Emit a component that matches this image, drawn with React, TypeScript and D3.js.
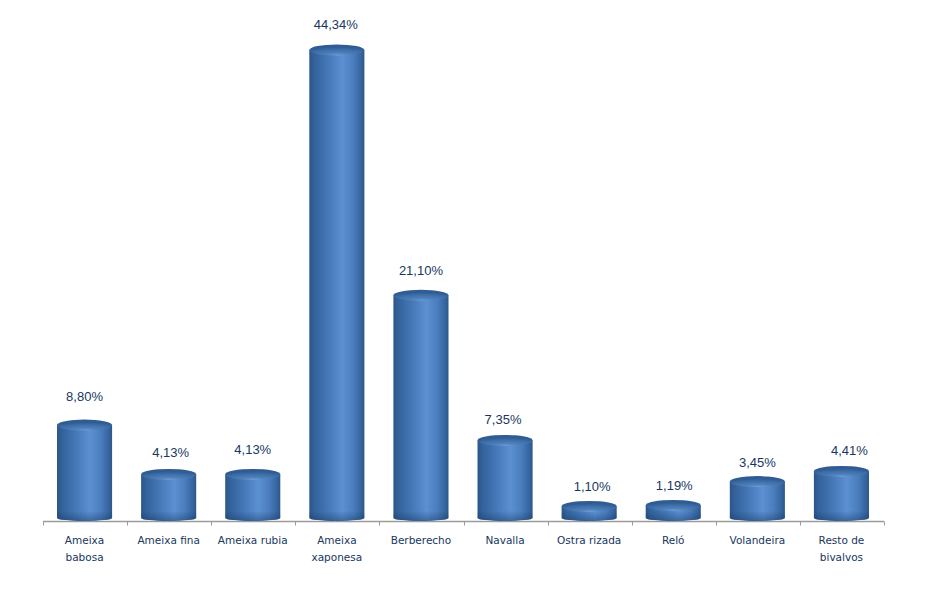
import React from "react";
import * as d3 from "d3";

const categories = [["Ameixa", "babosa"], ["Ameixa fina"], ["Ameixa rubia"], ["Ameixa", "xaponesa"], ["Berberecho"], ["Navalla"], ["Ostra rizada"], ["Reló"], ["Volandeira"], ["Resto de", "bivalvos"]];
const values = [8.8, 4.13, 4.13, 44.34, 21.1, 7.35, 1.1, 1.19, 3.45, 4.41];
const valueLabels = ["8,80%", "4,13%", "4,13%", "44,34%", "21,10%", "7,35%", "1,10%", "1,19%", "3,45%", "4,41%"];
const labelNudgeX = [0, 2, 0, -1, 0, -2, 3, 1, 0, 8];
const labelGaps = [24, 17, 20, 21, 20, 16, 15, 15, 15, 16];

const W = 928, H = 600;
const axisY = 521.5;
const band = 841 / values.length;
const x = d3.scaleBand<number>().domain(d3.range(values.length)).range([42.5, 883.5]).paddingInner(0.345).paddingOuter(0.1725);
const y = d3.scaleLinear().domain([0, 44.34]).range([518, 50]);
const ticks = d3.range(values.length + 1).map(i => 43 + band * i);
const RY = 5.5;

export default function App() {
  const bw = x.bandwidth();
  return (
    <svg width={W} height={H} style={{ position: "absolute", left: 0, top: 0, background: "#fff" }}>
      <defs>
        <linearGradient id="body" x1="0" x2="1" y1="0" y2="0">
          <stop offset="0" stopColor="#2b5689" />
          <stop offset="0.1" stopColor="#34639c" />
          <stop offset="0.35" stopColor="#4679b8" />
          <stop offset="0.6" stopColor="#5b90d2" />
          <stop offset="0.8" stopColor="#4a7dbd" />
          <stop offset="0.95" stopColor="#34639c" />
          <stop offset="1" stopColor="#2b5689" />
        </linearGradient>
        <radialGradient id="cap" cx="0.52" cy="1" r="0.75">
          <stop offset="0" stopColor="#6f9fd8" />
          <stop offset="0.3" stopColor="#4f81bd" />
          <stop offset="0.75" stopColor="#3c6ca6" />
          <stop offset="1" stopColor="#2f5c92" />
        </radialGradient>
        <linearGradient id="shadeBottom" x1="0" x2="0" y1="0" y2="1">
          <stop offset="0" stopColor="#16365f" stopOpacity="0" />
          <stop offset="1" stopColor="#16365f" stopOpacity="0.45" />
        </linearGradient>
      </defs>
      <line x1={43} x2={884} y1={axisY} y2={axisY} stroke="#9a9a9a" strokeWidth={1.3} />
      {ticks.map((t, i) => (
        <line key={i} x1={Math.round(t) + 0.5} x2={Math.round(t) + 0.5} y1={axisY} y2={axisY + 4} stroke="#9a9a9a" />
      ))}
      {values.map((v, i) => {
        const x0 = x(i)!;
        const top = y(v);
        const bottom = y(0);
        const rx = bw / 2;
        const cx = x0 + rx;
        const d = `M${x0},${top}L${x0},${bottom}A${rx},${RY - 2.5} 0 0 0 ${x0 + bw},${bottom}L${x0 + bw},${top}Z`;
        const shadeTop = Math.max(top + RY, bottom - 7);
        const shade = `M${x0},${shadeTop}L${x0},${bottom}A${rx},${RY - 2.5} 0 0 0 ${x0 + bw},${bottom}L${x0 + bw},${shadeTop}Z`;
        return (
          <g key={i}>
            <path d={d} fill="url(#body)" />
            <path d={shade} fill="url(#shadeBottom)" />
            <ellipse cx={cx} cy={top} rx={rx} ry={RY} fill="url(#cap)" />
            <text x={cx + labelNudgeX[i]} y={top - labelGaps[i]} textAnchor="middle" fontFamily="Liberation Sans" fontSize={13} fill="#17375e">{valueLabels[i]}</text>
            <text textAnchor="middle" fontFamily="DejaVu Sans" fontSize={10.5} fill="#17375e">
              {categories[i].map((line, k) => (
                <tspan key={k} x={cx} y={544 + k * 17}>{line}</tspan>
              ))}
            </text>
          </g>
        );
      })}
    </svg>
  );
}
